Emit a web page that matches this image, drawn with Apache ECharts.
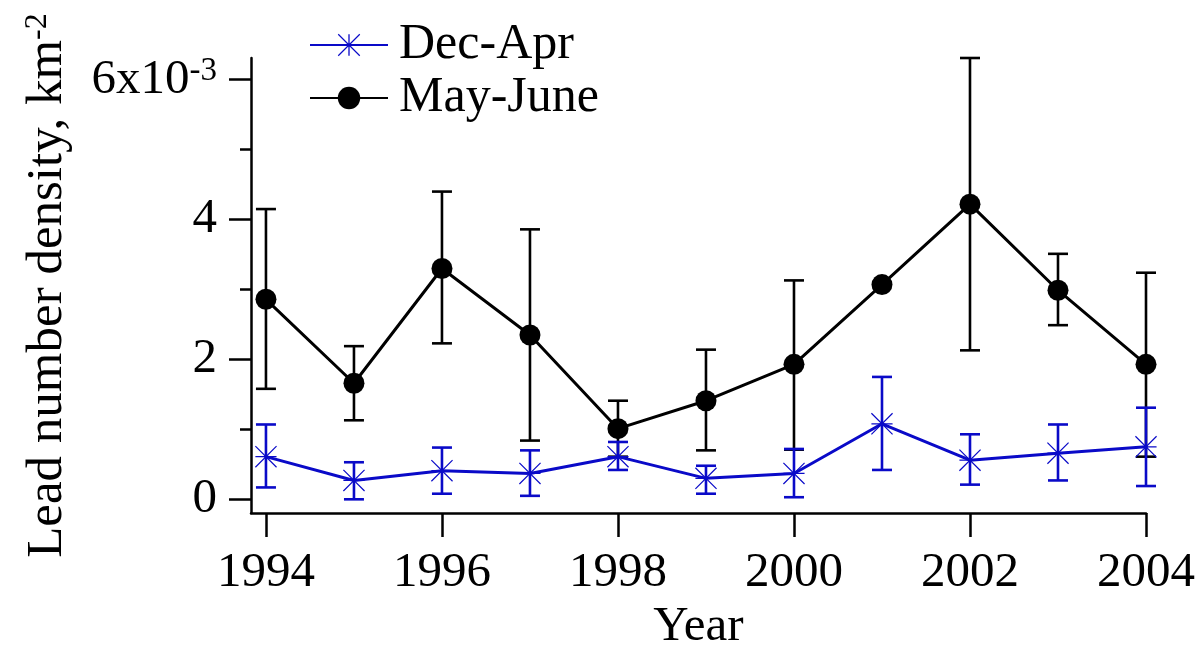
<!DOCTYPE html>
<html>
<head>
<meta charset="utf-8">
<script src="https://cdn.jsdelivr.net/npm/echarts@6/dist/echarts.min.js"></script>
<style>
html,body{margin:0;padding:0;background:#fff;}
#chart{width:1203px;height:657px;}
</style>
</head>
<body>
<div id="chart"></div>
<script>
// ---- data (values in units of 10^-3 km^-2) ----
const years = [1994, 1995, 1996, 1997, 1998, 1999, 2000, 2001, 2002, 2003, 2004];
const mayJune     = [2.86, 1.66, 3.30, 2.35, 1.01, 1.41, 1.93, 3.07, 4.22, 2.99, 1.93];
const mayJuneLow  = [1.58, 1.13, 2.23, 0.84, 0.61, 0.70, 0.71, 3.07, 2.13, 2.49, 0.61];
const mayJuneHigh = [4.15, 2.19, 4.40, 3.86, 1.41, 2.14, 3.13, 3.07, 6.31, 3.51, 3.24];
const decApr      = [0.61, 0.27, 0.41, 0.37, 0.61, 0.30, 0.37, 1.08, 0.56, 0.66, 0.75];
const decAprLow   = [0.17, 0.00, 0.08, 0.05, 0.42, 0.08, 0.03, 0.42, 0.21, 0.27, 0.19];
const decAprHigh  = [1.07, 0.53, 0.74, 0.70, 0.82, 0.48, 0.72, 1.75, 0.93, 1.07, 1.31];
const xTicks = [1994, 1996, 1998, 2000, 2002, 2004];
const yTicks = [0, 2, 4, 6];
const yMinorTicks = [1, 3, 5];

const BLUE = '#0a0ac8';
const BLACK = '#000000';
const FONT = '"Liberation Serif", "DejaVu Serif", serif';

const asterisk = 'path://M47,0 L53,0 L53,100 L47,100 Z M0,47 L100,47 L100,53 L0,53 Z ' +
  'M-2,2 L2,-2 L102,98 L98,102 Z M98,-2 L102,2 L2,102 L-2,98 Z';

function errData(lo, hi) {
  return years.map((y, i) => [y, lo[i], hi[i]]);
}
function pairs(vals) {
  return years.map((y, i) => [y, vals[i]]);
}
function errRender(color) {
  return function (params, api) {
    const x = api.value(0);
    const pLo = api.coord([x, api.value(1)]);
    const pHi = api.coord([x, api.value(2)]);
    const cap = 10;
    const style = { stroke: color, lineWidth: 2.6, fill: null };
    return {
      type: 'group',
      children: [
        { type: 'line', shape: { x1: pLo[0], y1: pLo[1], x2: pHi[0], y2: pHi[1] }, style },
        { type: 'line', shape: { x1: pLo[0] - cap, y1: pLo[1], x2: pLo[0] + cap, y2: pLo[1] }, style },
        { type: 'line', shape: { x1: pHi[0] - cap, y1: pHi[1], x2: pHi[0] + cap, y2: pHi[1] }, style }
      ]
    };
  };
}

const chart = echarts.init(document.getElementById('chart'), null, { renderer: 'canvas' });
chart.setOption({
  animation: false,
  backgroundColor: '#fff',
  grid: { left: 251, right: 57, top: 58, bottom: 138, containLabel: false },
  legend: {
    data: ['Dec-Apr', 'May-June'],
    orient: 'vertical',
    left: 304,
    top: 15,
    itemWidth: 78,
    itemHeight: 28,
    itemGap: 3,
    textStyle: { fontFamily: FONT, fontSize: 50, color: '#000', padding: [0, 0, 0, 6] }
  },
  xAxis: {
    type: 'value',
    min: 1993.83,
    max: 2004,
    name: 'Year',
    nameLocation: 'middle',
    nameGap: 86,
    nameTextStyle: { fontFamily: FONT, fontSize: 49, color: '#000' },
    splitLine: { show: false },
    axisLine: { show: true, onZero: false, lineStyle: { color: '#000', width: 2.5 } },
    axisTick: { show: true, customValues: xTicks, length: 24, lineStyle: { color: '#000', width: 2.5 } },
    axisLabel: {
      customValues: xTicks, margin: 36,
      fontFamily: FONT, fontSize: 49, color: '#000',
      formatter: v => String(v)
    }
  },
  yAxis: [{
    type: 'value',
    min: -0.197,
    max: 6.31,
    name: 'Lead number density, km{sup|-2}',
    nameLocation: 'middle',
    nameRotate: 90,
    nameGap: 178,
    nameTextStyle: {
      fontFamily: FONT, fontSize: 51, color: '#000',
      rich: { sup: { fontFamily: FONT, fontSize: 32, verticalAlign: 'top', color: '#000' } }
    },
    splitLine: { show: false },
    axisLine: { show: true, onZero: false, lineStyle: { color: '#000', width: 2.5 } },
    axisTick: { show: true, customValues: yTicks, length: 22, lineStyle: { color: '#000', width: 2.5 } },
    axisLabel: {
      customValues: yTicks, margin: 34,
      fontFamily: FONT, fontSize: 49, color: '#000',
      formatter: v => (v === 6 ? '6x10{sup|-3}' : String(v)),
      rich: { sup: { fontFamily: FONT, fontSize: 33, verticalAlign: 'top', color: '#000' } }
    }
  }, {
    type: 'value',
    position: 'left',
    min: -0.197,
    max: 6.31,
    splitLine: { show: false },
    axisLine: { show: false },
    axisTick: { show: true, customValues: yMinorTicks, length: 11, lineStyle: { color: '#000', width: 2.5 } },
    axisLabel: { show: false }
  }],
  series: [
    {
      name: 'errMay', type: 'custom', renderItem: errRender(BLACK),
      data: errData(mayJuneLow, mayJuneHigh), encode: { x: 0, y: [1, 2] }, silent: true
    },
    {
      name: 'May-June', type: 'line', data: pairs(mayJune),
      symbol: 'circle', symbolSize: 21,
      lineStyle: { color: BLACK, width: 3 },
      itemStyle: { color: BLACK, borderWidth: 0 }
    },
    {
      name: 'errDec', type: 'custom', renderItem: errRender(BLUE),
      data: errData(decAprLow, decAprHigh), encode: { x: 0, y: [1, 2] }, silent: true
    },
    {
      name: 'Dec-Apr', type: 'line', data: pairs(decApr),
      symbol: asterisk, symbolSize: 22,
      lineStyle: { color: BLUE, width: 3 },
      itemStyle: { color: BLUE, borderWidth: 0 }
    }
  ]
});
</script>
</body>
</html>
